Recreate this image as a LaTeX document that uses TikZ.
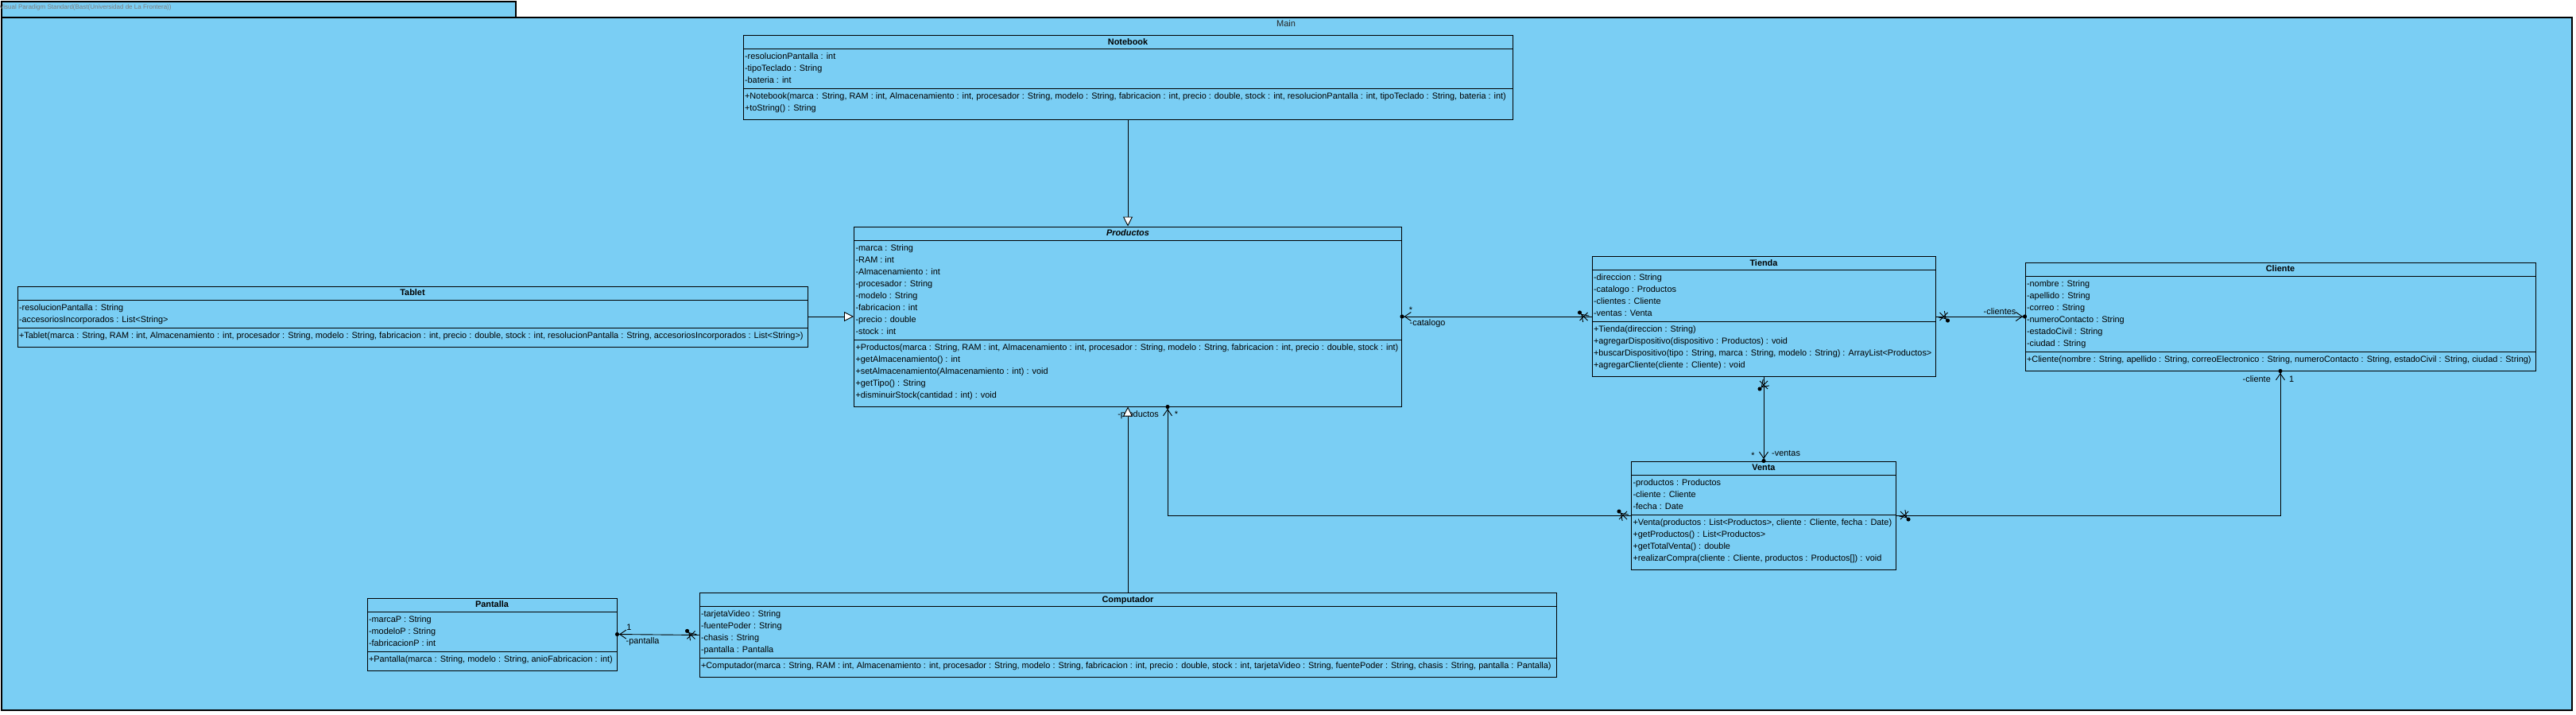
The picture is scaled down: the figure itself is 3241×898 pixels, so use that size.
\documentclass[tikz,border=0pt]{standalone}
\usepackage{fontspec}
\setmainfont{Liberation Sans}
\usetikzlibrary{shapes.multipart,arrows.meta,decorations.markings,calc}

\definecolor{vpblue}{RGB}{122,206,244}
\definecolor{vpgray}{RGB}{125,125,125}

\newcommand{\chead}[1]{\rule[-3pt]{0pt}{12pt}\textbf{#1}}
\newcommand{\cattr}[1]{\strut#1\strut}
\newcommand{\cops}[1]{\strut#1\rule[-8.5pt]{0pt}{8.5pt}}

\begin{document}
\begin{tikzpicture}[x=1pt, y=-1pt,
    umlclass/.style={rectangle split, rectangle split parts=3, draw=black, line width=1pt, fill=vpblue,
      align=left, rectangle split part align={center,left,left}, inner xsep=2pt, inner ysep=2pt,
      font=\fontsize{10.9}{15}\selectfont},
    lbl/.style={font=\fontsize{10.9}{12}\selectfont, inner sep=0pt},
    assoc/.style={line width=0.9pt},
    gen/.style={line width=0.9pt, -{Triangle[length=12pt, width=12pt, fill=white]}},
    ownedend/.style={-{Straight Barb[length=8pt, width=11pt] Circle[length=5pt]}, shorten >=-2.5pt},
    xstart/.style={postaction={decorate, decoration={markings,
      mark=at position 10pt with {\draw[line width=0.9pt] (-5pt,-5pt) -- (5pt,5pt) (-5pt,5pt) -- (5pt,-5pt);}}}}]

  \useasboundingbox (0,0) rectangle (3241,898);

  \draw [line width=1.4pt, fill=vpblue] (2,2) rectangle (649,22);
  \draw [line width=1.4pt, fill=vpblue] (2,22) rectangle (3236,893);
  \node [anchor=west, inner sep=0pt, text=vpgray, font=\fontsize{8}{9}\selectfont] (tabname) at (-1,9)
    {Visual Paradigm Standard(Bast(Universidad de La Frontera))};
  \node [font=\fontsize{11}{13}\selectfont, text=black!85] (mainname) at (1618,30) {Main};

  \node [umlclass, minimum width=968pt] (notebook) at (1419,97.5) {\chead{Notebook}
    \nodepart{two}\cattr{-resolucionPantalla : int\\-tipoTeclado : String\\-bateria : int}
    \nodepart{three}\cops{+Notebook(marca : String, RAM : int, Almacenamiento : int, procesador : String, modelo : String, fabricacion : int, precio : double, stock : int, resolucionPantalla : int, tipoTeclado : String, bateria : int)\\+toString() : String}};

  \node [umlclass, minimum width=689pt] (productos) at (1419,398) {\chead{\textit{Productos}}
    \nodepart{two}\cattr{-marca : String\\-RAM : int\\-Almacenamiento : int\\-procesador : String\\-modelo : String\\-fabricacion : int\\-precio : double\\-stock : int}
    \nodepart{three}\cops{+Productos(marca : String, RAM : int, Almacenamiento : int, procesador : String, modelo : String, fabricacion : int, precio : double, stock : int)\\+getAlmacenamiento() : int\\+setAlmacenamiento(Almacenamiento : int) : void\\+getTipo() : String\\+disminuirStock(cantidad : int) : void}};

  \node [umlclass, minimum width=994pt] (tablet) at (519,398) {\chead{Tablet}
    \nodepart{two}\cattr{-resolucionPantalla : String\\-accesoriosIncorporados : List<String>}
    \nodepart{three}\cops{+Tablet(marca : String, RAM : int, Almacenamiento : int, procesador : String, modelo : String, fabricacion : int, precio : double, stock : int, resolucionPantalla : String, accesoriosIncorporados : List<String>)}};

  \node [umlclass, minimum width=432pt] (tienda) at (2219,398) {\chead{Tienda}
    \nodepart{two}\cattr{-direccion : String\\-catalogo : Productos\\-clientes : Cliente\\-ventas : Venta}
    \nodepart{three}\cops{+Tienda(direccion : String)\\+agregarDispositivo(dispositivo : Productos) : void\\+buscarDispositivo(tipo : String, marca : String, modelo : String) : ArrayList<Productos>\\+agregarCliente(cliente : Cliente) : void}};

  \node [umlclass, minimum width=642pt] (cliente) at (2869,398) {\chead{Cliente}
    \nodepart{two}\cattr{-nombre : String\\-apellido : String\\-correo : String\\-numeroContacto : String\\-estadoCivil : String\\-ciudad : String}
    \nodepart{three}\cops{+Cliente(nombre : String, apellido : String, correoElectronico : String, numeroContacto : String, estadoCivil : String, ciudad : String)}};

  \node [umlclass, minimum width=333pt] (venta) at (2219,648) {\chead{Venta}
    \nodepart{two}\cattr{-productos : Productos\\-cliente : Cliente\\-fecha : Date}
    \nodepart{three}\cops{+Venta(productos : List<Productos>, cliente : Cliente, fecha : Date)\\+getProductos() : List<Productos>\\+getTotalVenta() : double\\+realizarCompra(cliente : Cliente, productos : Productos[]) : void}};

  \node [umlclass, minimum width=314pt] (pantalla) at (619,797.5) {\chead{Pantalla}
    \nodepart{two}\cattr{-marcaP : String\\-modeloP : String\\-fabricacionP : int}
    \nodepart{three}\cops{+Pantalla(marca : String, modelo : String, anioFabricacion : int)}};

  \node [umlclass, minimum width=1078pt] (computador) at (1419,798.5) {\chead{Computador}
    \nodepart{two}\cattr{-tarjetaVideo : String\\-fuentePoder : String\\-chasis : String\\-pantalla : Pantalla}
    \nodepart{three}\cops{+Computador(marca : String, RAM : int, Almacenamiento : int, procesador : String, modelo : String, fabricacion : int, precio : double, stock : int, tarjetaVideo : String, fuentePoder : String, chasis : String, pantalla : Pantalla)}};

  \coordinate (prodend) at ($(productos.south)+(50,0)$);

  \draw [assoc, xstart, ownedend] (tienda.west) -- (productos.east);
  \draw [assoc, xstart, ownedend] (tienda.east) -- (cliente.west);
  \draw [assoc, xstart, ownedend] (tienda.south) -- (venta.north);
  \draw [assoc, xstart, ownedend] (venta.west) -| (prodend);
  \draw [assoc, xstart, ownedend] (venta.east) -| (cliente.south);
  \draw [assoc, xstart, ownedend] (computador.west) -- (pantalla.east);

  \node [lbl, anchor=west] (catalogoname) at ([xshift=9.5pt, yshift=-9pt]productos.east) {-catalogo};
  \node [lbl] (catalogomult) at ([xshift=11pt, yshift=8.5pt]productos.east) {*};
  \node [lbl, anchor=east] (clientesname) at ([xshift=-11pt, yshift=6.5pt]cliente.west) {-clientes};
  \node [lbl, anchor=east] (clientename) at ([xshift=-12pt, yshift=-10pt]cliente.south) {-cliente};
  \node [lbl, anchor=west] (clientemult) at ([xshift=11pt, yshift=-10pt]cliente.south) {1};
  \node [lbl, anchor=west] (ventasname) at ([xshift=10pt, yshift=9pt]venta.north) {-ventas};
  \node [lbl] (ventasmult) at ([xshift=-13.5pt, yshift=6.5pt]venta.north) {*};
  \node [lbl, anchor=east] (productosname) at ([xshift=-11pt, yshift=-10pt]prodend) {-productos};
  \node [lbl] (productosmult) at ([xshift=11pt, yshift=-9.5pt]prodend) {*};
  \node [lbl] (pantallamult) at ([xshift=15pt, yshift=9pt]pantalla.east) {1};
  \node [lbl, anchor=west] (pantallaname) at ([xshift=11pt, yshift=-9.5pt]pantalla.east) {-pantalla};

  \draw [gen] (notebook.south) -- (productos.north);
  \draw [gen] (tablet.east) -- (productos.west);
  \draw [gen] (computador.north) -- (productos.south);
\end{tikzpicture}
\end{document}
